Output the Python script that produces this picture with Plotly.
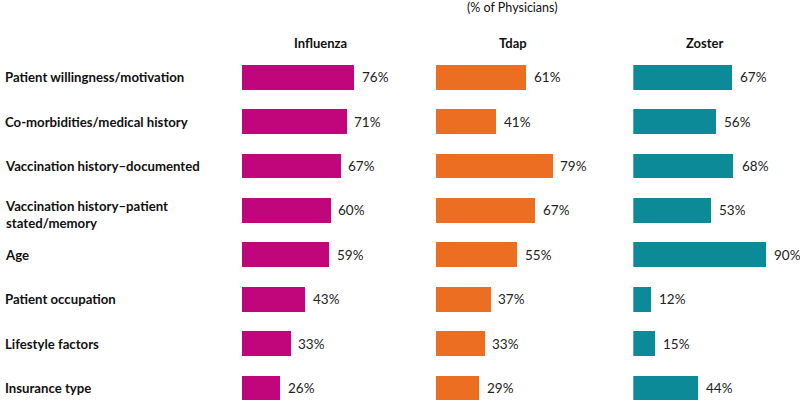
import plotly.graph_objects as go

factors = [
    "Patient willingness/motivation",
    "Co-morbidities/medical history",
    "Vaccination history\u2013documented",
    "Vaccination history\u2013patient<br>stated/memory",
    "Age",
    "Patient occupation",
    "Lifestyle factors",
    "Insurance type",
]
vaccines = ["Influenza", "Tdap", "Zoster"]
influenza = [76, 71, 67, 60, 59, 43, 33, 26]
tdap = [61, 41, 79, 67, 55, 37, 33, 29]
zoster = [67, 56, 68, 53, 90, 12, 15, 44]
subtitle = "(% of Physicians)"

series = [influenza, tdap, zoster]
colors = ["#C0067A", "#EB6E22", "#0D8A97"]
W, H = 800, 403
T = 55.3
PH = H - T
starts = [241.5, 435.8, 633.3]
header_x = [320, 513, 705]
pxper = 1.475
rng = 100
FONT = "Lato"


def py(ypx):
    return 1 - (ypx - T) / PH


fig = go.Figure()
ypos = list(range(len(factors)))
for i, (vals, col) in enumerate(zip(series, colors)):
    xa = "x" if i == 0 else f"x{i+1}"
    fig.add_trace(go.Bar(
        x=vals, y=ypos, orientation="h", marker=dict(color=col, line=dict(width=0)),
        width=0.56, xaxis=xa, yaxis="y", showlegend=False, hoverinfo="skip",
    ))
    d0 = starts[i] / W
    d1 = (starts[i] + rng * pxper) / W
    key = "xaxis" if i == 0 else f"xaxis{i+1}"
    fig.layout[key] = dict(domain=[d0, d1], range=[0, rng], visible=False, fixedrange=True)
    for j, v in enumerate(vals):
        fig.add_annotation(x=v, xref=xa, y=j, yref="y", text=f"{v}%", showarrow=False,
                           xanchor="left", xshift=6,
                           font=dict(family=FONT, size=13.5, color="#222"))
    fig.add_annotation(x=header_x[i] / W, xref="paper", y=py(43), yref="paper",
                       text=f"<b>{vaccines[i]}</b>", showarrow=False, yanchor="middle",
                       font=dict(family=FONT, size=13, color="#111"), xanchor="center")

for j, f in enumerate(factors):
    fig.add_annotation(x=3 / W, xref="paper", y=j, yref="y", text=f"<b>{f}</b>",
                       showarrow=False, xanchor="left", align="left",
                       yshift=-4 if "<br>" in f else 0,
                       font=dict(family=FONT, size=13.2, color="#111"))

fig.add_annotation(x=512 / W, xref="paper", y=py(8), yref="paper", yanchor="middle",
                   text=subtitle, showarrow=False, font=dict(family=FONT, size=12.5, color="#111"))

fig.update_layout(
    width=W, height=H, margin=dict(l=0, r=0, t=T, b=0, pad=0),
    paper_bgcolor="white", plot_bgcolor="white",
    yaxis=dict(range=[-0.5 + PH / 44.36, -0.5], visible=False, fixedrange=True),
    bargap=0,
)
fig.write_html("out.html", config={"displayModeBar": False},
               post_script="document.body.style.margin='0';")
